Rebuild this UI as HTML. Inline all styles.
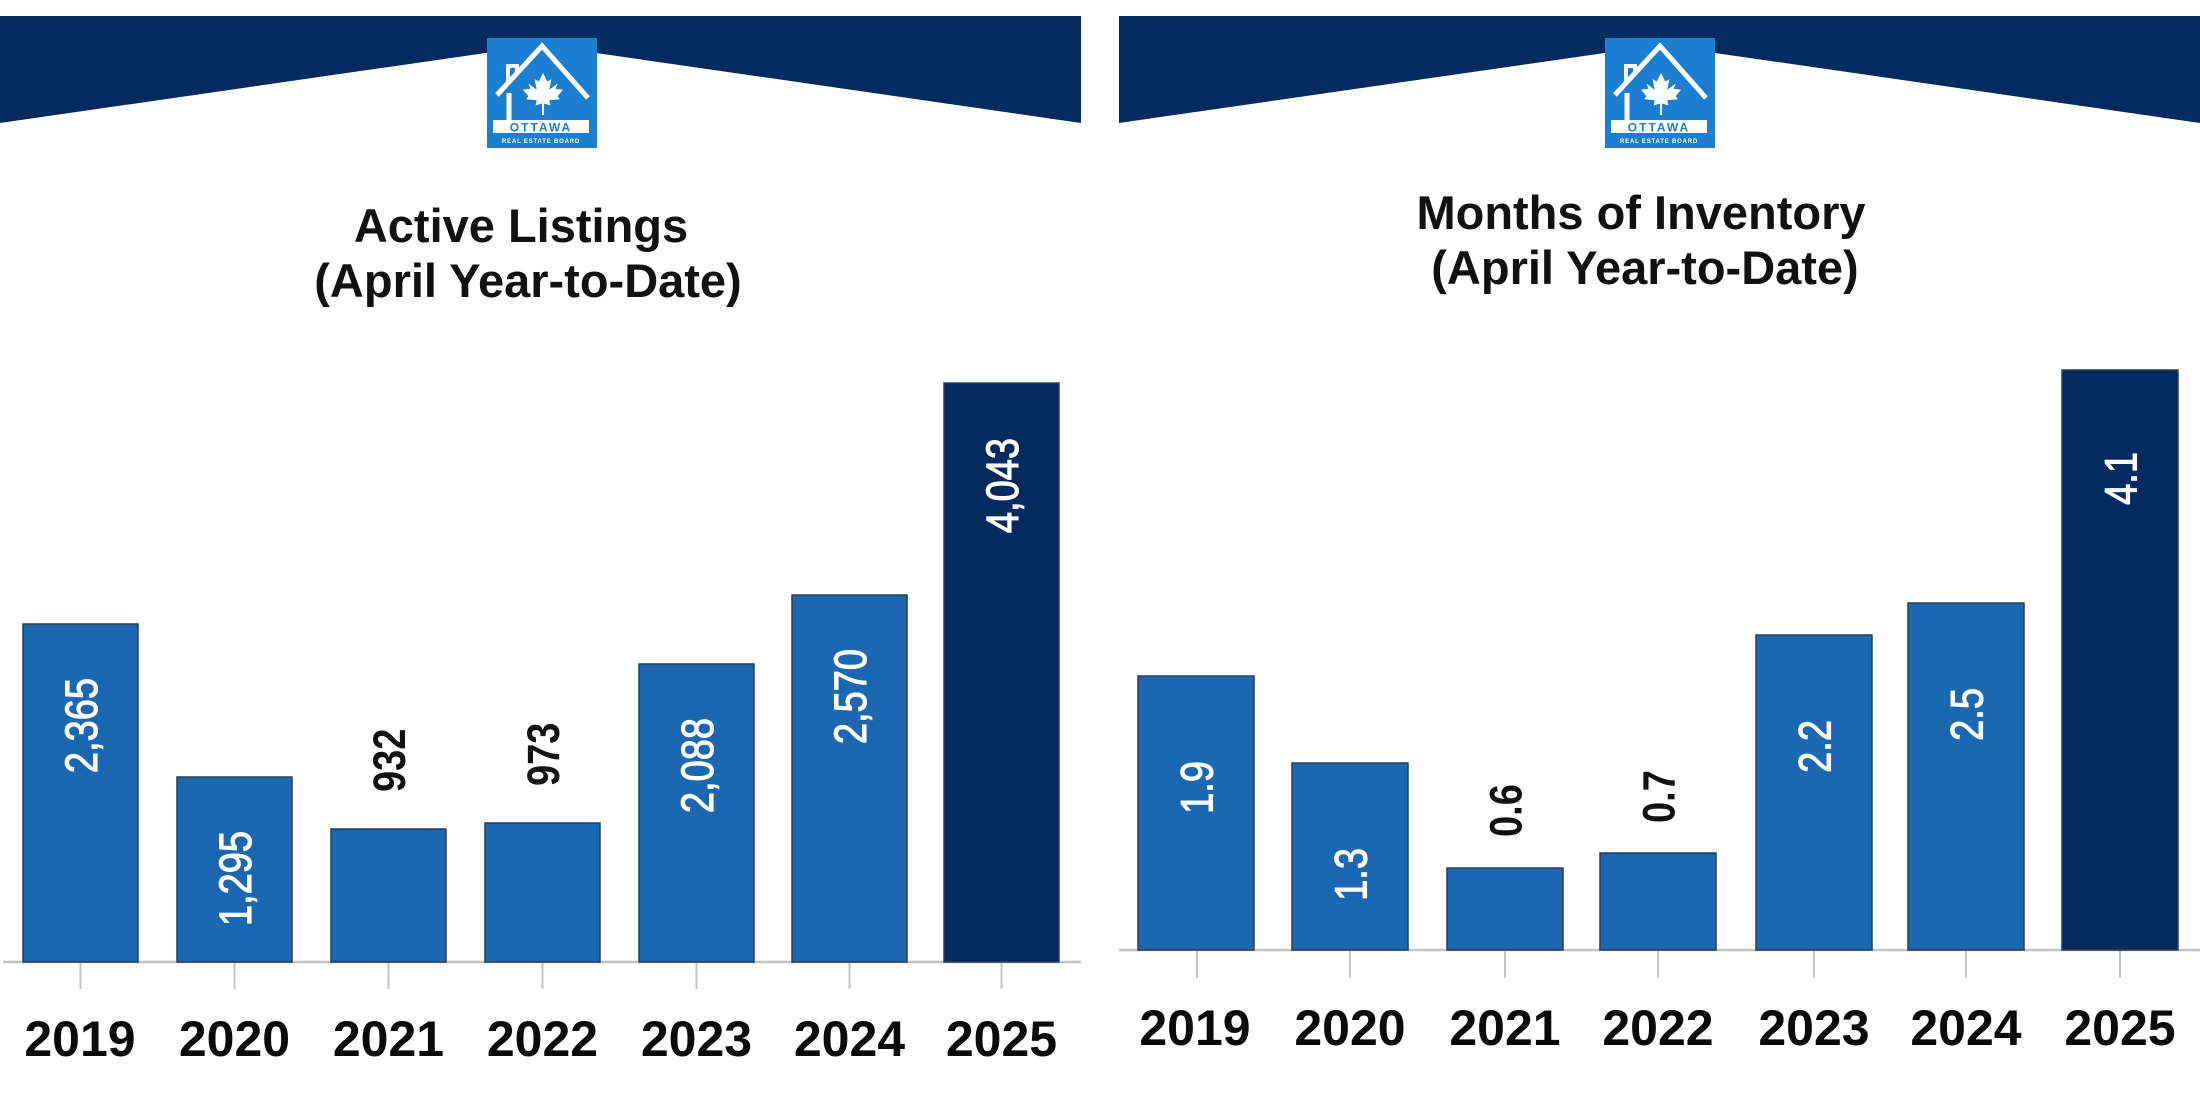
<!DOCTYPE html>
<html>
<head>
<meta charset="utf-8">
<style>
  html, body { margin: 0; padding: 0; background: #ffffff; }
  body { width: 2200px; height: 1100px; overflow: hidden; }
  svg { display: block; }
  text { font-family: "Liberation Sans", Arial, sans-serif; }
</style>
</head>
<body>
<svg width="2200" height="1100" viewBox="0 0 2200 1100" xmlns="http://www.w3.org/2000/svg">
  <rect x="0" y="0" width="2200" height="1100" fill="#ffffff"/>

  <!-- Header bands -->
  <polygon points="0,16 1081,16 1081,123 541,45 0,123" fill="#042b5e"/>
  <polygon points="1119,16 2200,16 2200,123 1660,45 1119,123" fill="#042b5e"/>

  <!-- Logo definition -->
  <defs>
    <g id="logo">
      <rect x="0" y="0" width="110" height="110" fill="#1b7ed0"/>
      <polyline points="10,57 55,8 101,60" fill="none" stroke="#ffffff" stroke-width="5" stroke-linejoin="miter"/>
      <polyline points="21,45 21,28 30,28 30,36" fill="none" stroke="#ffffff" stroke-width="4"/>
      <line x1="22" y1="55" x2="22" y2="82" stroke="#ffffff" stroke-width="5"/>
      <path transform="translate(56,56) scale(1.05)" fill="#ffffff"
        d="M0,-20 L4,-12 L8,-14 L6,-4 L14,-10 L12,-5 L19,-4 L14,2 L16,5 L6,6 L7,11 L1,9 L1,20 L-1,20 L-1,9 L-7,11 L-6,6 L-16,5 L-14,2 L-19,-4 L-12,-5 L-14,-10 L-6,-4 L-8,-14 L-4,-12 Z"/>
      <rect x="6" y="82" width="96" height="13" fill="#ffffff"/>
      <text x="54" y="93.5" text-anchor="middle" font-size="12" font-weight="bold" fill="#1b7ed0" letter-spacing="2">OTTAWA</text>
      <text x="54" y="105" text-anchor="middle" font-size="6" font-weight="bold" fill="#ffffff" letter-spacing="0.8">REAL ESTATE BOARD</text>
    </g>
  </defs>
  <use href="#logo" x="487" y="38"/>
  <use href="#logo" x="1605" y="38"/>

  <!-- Titles -->
  <g font-weight="bold" font-size="47" fill="#111111" text-anchor="middle">
    <text x="521" y="242">Active Listings</text>
    <text x="528" y="297">(April Year-to-Date)</text>
    <text x="1641" y="229">Months of Inventory</text>
    <text x="1645" y="284">(April Year-to-Date)</text>
  </g>

  <!-- LEFT CHART -->
  <line x1="3" y1="962" x2="1081" y2="962" stroke="#c4c4c4" stroke-width="2.5"/>
  <g stroke="#c4c4c4" stroke-width="2">
    <line x1="80.5" y1="963" x2="80.5" y2="989"/>
    <line x1="234.5" y1="963" x2="234.5" y2="989"/>
    <line x1="388.5" y1="963" x2="388.5" y2="989"/>
    <line x1="542.5" y1="963" x2="542.5" y2="989"/>
    <line x1="696.5" y1="963" x2="696.5" y2="989"/>
    <line x1="849.5" y1="963" x2="849.5" y2="989"/>
    <line x1="1001.5" y1="963" x2="1001.5" y2="989"/>
  </g>
  <g stroke="#2c3d55" stroke-width="1.5">
    <rect x="23" y="624" width="115" height="338" fill="#1c67b1"/>
    <rect x="177" y="777" width="115" height="185" fill="#1c67b1"/>
    <rect x="331" y="829" width="115" height="133" fill="#1c67b1"/>
    <rect x="485" y="823" width="115" height="139" fill="#1c67b1"/>
    <rect x="639" y="664" width="115" height="298" fill="#1c67b1"/>
    <rect x="792" y="595" width="115" height="367" fill="#1c67b1"/>
    <rect x="944" y="383" width="115" height="579" fill="#042a5e"/>
  </g>
  <g font-size="38" fill="#ffffff" stroke="#ffffff" stroke-width="0.9" text-anchor="end">
    <text transform="translate(96.8,678) scale(1.2,1) rotate(-90)">2,365</text>
    <text transform="translate(250.8,831) scale(1.2,1) rotate(-90)">1,295</text>
    <text transform="translate(712.8,718) scale(1.2,1) rotate(-90)">2,088</text>
    <text transform="translate(865.8,649) scale(1.2,1) rotate(-90)">2,570</text>
    <text transform="translate(1017.8,438) scale(1.2,1) rotate(-90)">4,043</text>
  </g>
  <g font-size="38" font-weight="bold" fill="#111111" text-anchor="start">
    <text transform="translate(404.8,792) scale(1.2,1) rotate(-90)">932</text>
    <text transform="translate(558.8,786) scale(1.2,1) rotate(-90)">973</text>
  </g>
  <g font-size="50" font-weight="bold" fill="#0a0a0a" text-anchor="middle">
    <text x="80" y="1056">2019</text>
    <text x="234.5" y="1056">2020</text>
    <text x="388.5" y="1056">2021</text>
    <text x="542.5" y="1056">2022</text>
    <text x="696.5" y="1056">2023</text>
    <text x="849.5" y="1056">2024</text>
    <text x="1001.5" y="1056">2025</text>
  </g>

  <!-- RIGHT CHART -->
  <line x1="1119" y1="950" x2="2200" y2="950" stroke="#c4c4c4" stroke-width="2.5"/>
  <g stroke="#c4c4c4" stroke-width="2">
    <line x1="1197" y1="951" x2="1197" y2="978"/>
    <line x1="1350" y1="951" x2="1350" y2="978"/>
    <line x1="1505" y1="951" x2="1505" y2="978"/>
    <line x1="1658" y1="951" x2="1658" y2="978"/>
    <line x1="1814" y1="951" x2="1814" y2="978"/>
    <line x1="1966" y1="951" x2="1966" y2="978"/>
    <line x1="2120" y1="951" x2="2120" y2="978"/>
  </g>
  <g stroke="#2c3d55" stroke-width="1.5">
    <rect x="1138" y="676" width="116" height="274" fill="#1c67b1"/>
    <rect x="1292" y="763" width="116" height="187" fill="#1c67b1"/>
    <rect x="1447" y="868" width="116" height="82" fill="#1c67b1"/>
    <rect x="1600" y="853" width="116" height="97" fill="#1c67b1"/>
    <rect x="1756" y="635" width="116" height="315" fill="#1c67b1"/>
    <rect x="1908" y="603" width="116" height="347" fill="#1c67b1"/>
    <rect x="2062" y="370" width="116" height="580" fill="#042a5e"/>
  </g>
  <g font-size="38" fill="#ffffff" stroke="#ffffff" stroke-width="0.9" text-anchor="end">
    <text transform="translate(1212.3,761) scale(1.2,1) rotate(-90)">1.9</text>
    <text transform="translate(1366.3,848) scale(1.2,1) rotate(-90)">1.3</text>
    <text transform="translate(1830.3,720) scale(1.2,1) rotate(-90)">2.2</text>
    <text transform="translate(1982.3,688) scale(1.2,1) rotate(-90)">2.5</text>
    <text transform="translate(2136.3,452) scale(1.2,1) rotate(-90)">4.1</text>
  </g>
  <g font-size="38" font-weight="bold" fill="#111111" text-anchor="start">
    <text transform="translate(1521.3,837) scale(1.2,1) rotate(-90)">0.6</text>
    <text transform="translate(1674.3,823) scale(1.2,1) rotate(-90)">0.7</text>
  </g>
  <g font-size="50" font-weight="bold" fill="#0a0a0a" text-anchor="middle">
    <text x="1195" y="1045">2019</text>
    <text x="1350" y="1045">2020</text>
    <text x="1505" y="1045">2021</text>
    <text x="1658" y="1045">2022</text>
    <text x="1814" y="1045">2023</text>
    <text x="1966" y="1045">2024</text>
    <text x="2120" y="1045">2025</text>
  </g>
</svg>
</body>
</html>
